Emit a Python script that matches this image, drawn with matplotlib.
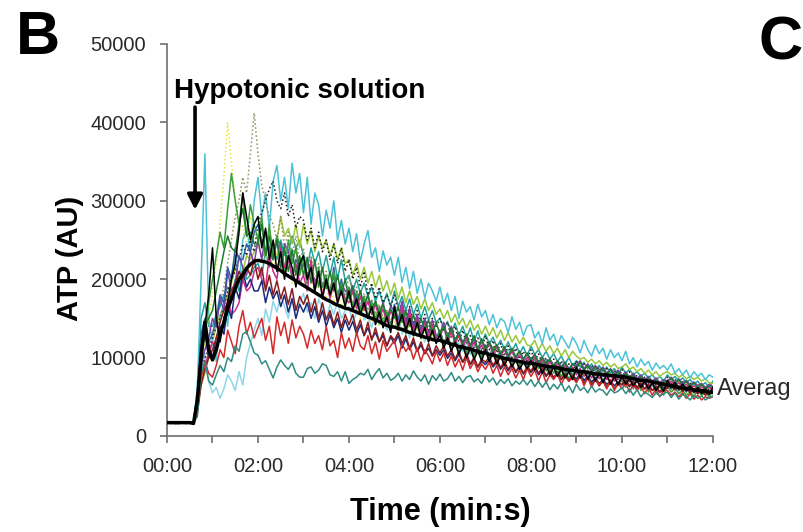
"""
ATP release after hypotonic stimulation: individual cell traces + average.
Output: out.png
"""
import matplotlib
matplotlib.use("Agg")
import matplotlib.pyplot as plt
from matplotlib.ticker import FuncFormatter, MultipleLocator

# sample clock, seconds (one reading every 5 s, 0 .. 12 min)
TIME_S = list(range(0, 721, 5))

# individual traces, ATP in hundreds of AU, one row per minute
TRACE_CYAN = [
    17, 18, 17, 17, 18, 17, 17, 18, 60, 200, 360, 150,
    120, 95, 150, 170, 140, 205, 230, 190, 250, 265, 235, 300,
    330, 280, 310, 265, 325, 345, 300, 330, 290, 348, 310, 335,
    285, 330, 270, 310, 295, 255, 288, 265, 300, 250, 275, 245,
    265, 235, 258, 222, 245, 262, 228, 240, 210, 236, 218, 228,
    205, 228, 196, 215, 188, 210, 182, 200, 176, 195, 185, 172,
    190, 168, 182, 160, 178, 150, 172, 158, 165, 148, 168, 152,
    160, 142, 155, 138, 150, 146, 132, 152, 136, 145, 128, 140,
    142, 125, 133, 118, 138, 122, 130, 115, 128, 120, 112, 126,
    118, 106, 122, 110, 102, 116, 105, 112, 98, 110, 100, 106,
    96, 108, 92, 100, 88, 98, 90, 95, 84, 93, 86, 90,
    84, 92, 80, 86, 78, 84, 74, 82, 76, 80, 72, 78,
    75]
TRACE_SKY = [
    17, 17, 18, 17, 17, 17, 18, 17, 35, 80, 105, 70,
    55, 62, 48, 60, 78, 70, 58, 82, 65, 100, 118, 135,
    150, 128, 162, 145, 172, 158, 180, 165, 150, 176, 160, 170,
    182, 158, 170, 150, 175, 162, 148, 168, 155, 172, 150, 160,
    165, 145, 158, 170, 148, 152, 138, 158, 142, 150, 135, 145,
    138, 150, 130, 142, 125, 138, 128, 132, 120, 135, 122, 128,
    130, 115, 126, 112, 122, 118, 108, 120, 104, 116, 110, 112,
    112, 102, 114, 100, 108, 96, 110, 98, 104, 94, 100, 96,
    100, 90, 96, 86, 98, 88, 92, 84, 94, 86, 82, 90,
    90, 82, 86, 78, 88, 80, 84, 75, 82, 78, 72, 80,
    78, 70, 76, 68, 74, 66, 72, 68, 64, 70, 62, 68,
    66, 60, 64, 58, 68, 60, 62, 56, 62, 58, 55, 60,
    58]
TRACE_TEAL = [
    17, 16, 17, 16, 17, 16, 17, 17, 25, 80, 95, 70,
    65, 78, 90, 82, 100, 95, 115, 108, 130, 133, 120, 106,
    103, 92, 96, 85, 74, 88, 97, 90, 85, 93, 80, 75,
    75, 86, 88, 80, 84, 92, 90, 78, 76, 82, 70, 82,
    67, 72, 75, 80, 78, 85, 72, 80, 86, 74, 80, 71,
    74, 80, 70, 78, 72, 83, 75, 70, 78, 66, 77, 71,
    79, 70, 73, 81, 70, 76, 68, 75, 77, 69, 73, 67,
    77, 69, 74, 65, 72, 67, 73, 64, 70, 66, 72, 65,
    72, 63, 70, 62, 69, 59, 66, 60, 68, 57, 64, 55,
    66, 58, 62, 55, 64, 56, 60, 58, 52, 60, 55, 57,
    62, 54, 60, 52, 59, 50, 56, 53, 49, 55, 51, 54,
    56, 49, 55, 47, 53, 50, 46, 52, 48, 51, 46, 49,
    51]
TRACE_YELLOW = [
    17, 17, 18, 17, 17, 18, 17, 17, 30, 90, 120, 150,
    180, 220, 270, 330, 400, 350, 300, 260, 270, 240, 280, 260,
    240, 255, 225, 250, 210, 235, 220, 200, 228, 195, 215, 205,
    220, 190, 205, 182, 198, 188, 175, 195, 170, 185, 165, 178,
    180, 160, 172, 150, 165, 155, 145, 162, 140, 155, 138, 148,
    145, 135, 150, 130, 142, 126, 138, 122, 135, 120, 130, 118,
    130, 115, 125, 110, 122, 108, 118, 104, 113, 100, 110, 98,
    108, 96, 104, 92, 100, 90, 98, 88, 95, 85, 92, 84,
    98, 86, 94, 82, 90, 80, 88, 78, 86, 76, 83, 74,
    84, 74, 80, 72, 78, 70, 76, 68, 74, 66, 72, 65,
    76, 68, 74, 65, 70, 62, 68, 60, 66, 58, 64, 57,
    62, 58, 64, 55, 60, 54, 58, 52, 57, 50, 56, 52,
    59]
TRACE_OLIVE = [
    17, 18, 17, 17, 17, 18, 17, 17, 25, 70, 90, 110,
    130, 150, 170, 190, 220, 250, 280, 300, 330, 310, 360, 412,
    360, 320, 300, 280, 270, 250, 280, 240, 260, 230, 255, 220,
    240, 205, 230, 195, 220, 190, 210, 185, 205, 180, 195, 175,
    205, 180, 190, 165, 182, 160, 175, 155, 168, 150, 160, 145,
    165, 145, 160, 140, 155, 135, 150, 130, 145, 128, 140, 125,
    135, 120, 128, 112, 120, 108, 115, 105, 118, 100, 112, 98,
    115, 100, 110, 96, 108, 94, 104, 92, 100, 90, 98, 88,
    100, 88, 95, 84, 91, 80, 88, 77, 85, 74, 81, 72,
    88, 78, 84, 74, 82, 72, 80, 70, 78, 68, 75, 66,
    78, 69, 75, 66, 72, 64, 70, 61, 66, 59, 63, 57,
    70, 62, 66, 58, 64, 56, 62, 54, 60, 53, 58, 52,
    60]
TRACE_BLACK_DOT = [
    17, 17, 16, 17, 17, 16, 17, 17, 30, 80, 100, 110,
    125, 140, 150, 165, 185, 200, 210, 225, 245, 230, 250, 235,
    270, 285, 300, 315, 325, 300, 290, 310, 280, 295, 265, 280,
    275, 250, 265, 240, 260, 235, 250, 225, 245, 220, 240, 210,
    225, 200, 215, 190, 210, 180, 195, 175, 190, 170, 180, 165,
    180, 160, 170, 150, 165, 145, 160, 140, 155, 135, 150, 138,
    150, 135, 145, 125, 140, 120, 135, 118, 128, 112, 125, 108,
    128, 110, 122, 106, 118, 102, 115, 100, 112, 98, 108, 96,
    110, 96, 105, 92, 100, 88, 98, 86, 96, 84, 92, 80,
    96, 84, 92, 80, 90, 78, 88, 76, 86, 74, 84, 72,
    85, 74, 82, 70, 78, 68, 75, 66, 72, 65, 70, 62,
    75, 65, 72, 62, 70, 60, 68, 58, 66, 56, 64, 58,
    64]
TRACE_GREEN = [
    17, 17, 17, 18, 17, 17, 18, 17, 40, 100, 130, 170,
    200, 230, 260, 240, 290, 335, 300, 270, 310, 255, 295, 270,
    250, 280, 230, 270, 225, 255, 240, 210, 250, 220, 240, 205,
    230, 195, 220, 185, 215, 190, 205, 180, 210, 175, 195, 170,
    190, 165, 185, 160, 178, 150, 172, 148, 165, 142, 158, 140,
    160, 135, 155, 130, 150, 128, 142, 125, 140, 120, 138, 118,
    135, 115, 132, 112, 125, 108, 120, 105, 118, 102, 114, 100,
    108, 98, 114, 95, 108, 92, 104, 90, 100, 86, 98, 84,
    92, 98, 86, 94, 83, 90, 80, 87, 76, 83, 73, 80,
    70, 80, 68, 78, 66, 75, 64, 72, 62, 70, 60, 68,
    70, 62, 77, 60, 73, 58, 70, 56, 67, 54, 64, 52,
    64, 56, 61, 54, 58, 52, 56, 50, 60, 52, 55, 50,
    57]
TRACE_BLACK = [
    16, 17, 16, 16, 17, 16, 17, 16, 50, 110, 140, 180,
    240, 150, 120, 150, 170, 200, 220, 260, 310, 280, 250, 270,
    280, 240, 265, 225, 250, 210, 235, 200, 230, 215, 190, 220,
    230, 200, 215, 185, 210, 175, 200, 180, 195, 170, 185, 165,
    185, 160, 175, 155, 170, 150, 165, 142, 158, 138, 152, 132,
    165, 140, 155, 135, 150, 128, 145, 125, 138, 120, 135, 118,
    130, 112, 125, 108, 120, 104, 116, 100, 112, 98, 108, 96,
    110, 95, 106, 92, 102, 90, 100, 88, 97, 85, 94, 86,
    96, 84, 92, 80, 90, 78, 88, 76, 85, 74, 82, 72,
    88, 74, 84, 72, 82, 70, 80, 68, 78, 66, 76, 65,
    76, 66, 73, 64, 71, 62, 70, 60, 68, 58, 66, 57,
    71, 62, 68, 60, 66, 58, 64, 56, 62, 54, 60, 53,
    62]
TRACE_RED = [
    17, 17, 17, 17, 17, 17, 17, 17, 35, 75, 95, 80,
    75, 90, 110, 100, 135, 120, 105, 140, 160, 130, 145, 125,
    138, 150, 122, 140, 105, 152, 128, 145, 118, 148, 125, 140,
    130, 112, 135, 118, 128, 110, 140, 115, 122, 100, 132, 112,
    125, 108, 132, 115, 110, 128, 105, 120, 98, 122, 108, 115,
    122, 100, 118, 108, 115, 98, 112, 95, 110, 102, 92, 108,
    95, 106, 90, 102, 88, 98, 84, 100, 86, 95, 82, 92,
    85, 94, 80, 90, 76, 88, 78, 86, 74, 84, 72, 86,
    76, 84, 70, 82, 68, 78, 72, 80, 66, 76, 70, 74,
    68, 78, 64, 75, 62, 72, 66, 70, 60, 72, 58, 68,
    60, 68, 56, 66, 58, 64, 54, 62, 52, 60, 50, 58,
    58, 52, 56, 50, 55, 48, 54, 47, 52, 46, 50, 48,
    50]
TRACE_MAROON = [
    17, 16, 17, 17, 17, 16, 17, 17, 30, 65, 85, 100,
    110, 125, 145, 160, 170, 185, 195, 210, 200, 215, 205, 225,
    200, 215, 185, 205, 180, 198, 175, 190, 168, 188, 160, 178,
    168, 180, 158, 175, 150, 170, 148, 160, 142, 158, 138, 155,
    142, 155, 135, 148, 128, 145, 122, 138, 120, 132, 115, 128,
    122, 132, 118, 128, 112, 125, 108, 120, 105, 118, 102, 115,
    106, 115, 102, 110, 98, 108, 94, 105, 92, 100, 88, 98,
    94, 101, 90, 98, 87, 95, 85, 92, 82, 90, 80, 88,
    83, 90, 80, 87, 77, 84, 74, 82, 72, 80, 70, 77,
    69, 76, 67, 74, 65, 72, 64, 70, 62, 68, 60, 66,
    66, 72, 64, 70, 62, 68, 60, 66, 58, 64, 56, 62,
    61, 67, 59, 64, 57, 62, 55, 60, 54, 58, 52, 56,
    54]
TRACE_PURPLE = [
    18, 17, 17, 18, 17, 17, 17, 18, 40, 90, 110, 125,
    150, 140, 175, 160, 210, 185, 195, 230, 215, 205, 235, 220,
    250, 225, 260, 240, 230, 255, 215, 245, 235, 220, 240, 210,
    220, 195, 215, 185, 210, 190, 200, 180, 205, 175, 195, 185,
    180, 192, 170, 185, 165, 180, 160, 172, 155, 170, 150, 165,
    160, 148, 172, 145, 163, 140, 155, 135, 150, 130, 148, 128,
    130, 145, 125, 140, 122, 132, 118, 128, 112, 126, 110, 122,
    112, 120, 108, 116, 105, 112, 102, 110, 100, 108, 98, 105,
    98, 104, 94, 100, 92, 98, 90, 96, 88, 94, 86, 92,
    90, 96, 86, 92, 84, 90, 82, 88, 80, 86, 79, 84,
    76, 82, 74, 80, 73, 78, 71, 76, 70, 74, 68, 72,
    70, 75, 68, 73, 67, 71, 65, 69, 64, 67, 62, 66,
    63]
TRACE_MAGENTA = [
    17, 17, 18, 17, 17, 17, 18, 17, 32, 75, 90, 105,
    120, 110, 140, 130, 175, 155, 160, 170, 200, 185, 190, 210,
    215, 200, 190, 230, 210, 200, 240, 215, 225, 205, 220, 195,
    205, 185, 225, 190, 210, 180, 200, 175, 195, 170, 190, 175,
    170, 185, 162, 178, 160, 172, 155, 168, 150, 162, 145, 158,
    155, 140, 165, 138, 158, 132, 150, 130, 145, 128, 142, 125,
    126, 140, 120, 133, 118, 128, 114, 124, 110, 120, 108, 116,
    108, 118, 104, 114, 102, 110, 100, 108, 98, 103, 95, 100,
    93, 100, 90, 98, 88, 95, 86, 92, 84, 90, 82, 88,
    78, 86, 76, 84, 74, 82, 73, 80, 72, 78, 70, 76,
    71, 78, 69, 76, 68, 73, 66, 71, 65, 70, 63, 68,
    65, 70, 63, 68, 62, 66, 61, 64, 60, 63, 58, 62,
    58]
TRACE_BLUE = [
    17, 17, 16, 17, 17, 17, 16, 17, 55, 130, 150, 120,
    130, 150, 180, 170, 215, 200, 240, 225, 225, 245, 235, 260,
    270, 245, 260, 235, 225, 250, 245, 210, 230, 200, 225, 215,
    230, 205, 215, 195, 210, 190, 200, 180, 215, 175, 200, 170,
    188, 165, 180, 160, 178, 150, 168, 148, 160, 142, 158, 140,
    168, 148, 160, 140, 155, 138, 150, 132, 148, 128, 142, 125,
    135, 118, 128, 112, 125, 108, 122, 106, 118, 102, 112, 100,
    116, 100, 112, 98, 108, 96, 104, 94, 100, 92, 98, 90,
    100, 87, 96, 84, 95, 82, 91, 80, 88, 78, 86, 76,
    87, 76, 84, 74, 82, 72, 80, 70, 78, 68, 76, 66,
    77, 67, 75, 65, 72, 63, 70, 62, 68, 60, 66, 58,
    68, 60, 66, 58, 64, 56, 62, 55, 61, 54, 60, 52,
    61]
TRACE_LIME = [
    17, 18, 17, 17, 17, 18, 17, 17, 30, 65, 80, 100,
    120, 140, 155, 165, 180, 195, 215, 200, 210, 230, 225, 235,
    245, 228, 235, 260, 240, 250, 280, 255, 265, 245, 270, 240,
    270, 245, 262, 235, 255, 240, 250, 230, 245, 225, 240, 220,
    225, 205, 220, 200, 215, 195, 210, 190, 205, 185, 198, 180,
    195, 175, 190, 170, 185, 168, 178, 162, 175, 160, 170, 155,
    162, 150, 160, 145, 155, 142, 150, 138, 148, 135, 142, 130,
    140, 128, 138, 125, 135, 122, 132, 120, 128, 118, 126, 116,
    115, 122, 110, 118, 108, 115, 105, 112, 102, 110, 100, 108,
    102, 98, 100, 94, 98, 92, 96, 90, 94, 88, 92, 86,
    88, 92, 85, 88, 82, 86, 80, 84, 78, 82, 76, 80,
    82, 78, 80, 75, 78, 73, 76, 72, 75, 70, 73, 68,
    67]
TRACE_NAVY = [
    16, 17, 17, 16, 17, 17, 16, 17, 45, 115, 130, 100,
    100, 125, 140, 130, 165, 150, 190, 175, 210, 190, 200, 185,
    185, 198, 170, 190, 175, 185, 165, 180, 158, 175, 150, 168,
    158, 170, 150, 165, 145, 160, 140, 155, 138, 150, 132, 148,
    135, 146, 130, 142, 128, 138, 124, 132, 120, 128, 115, 126,
    118, 128, 112, 124, 110, 120, 108, 116, 105, 112, 102, 110,
    103, 110, 99, 106, 96, 104, 94, 101, 91, 98, 88, 95,
    91, 97, 88, 94, 85, 92, 83, 90, 81, 88, 79, 86,
    81, 87, 78, 84, 76, 82, 74, 80, 72, 78, 70, 76,
    73, 79, 71, 76, 69, 74, 67, 72, 66, 70, 64, 69,
    65, 70, 63, 68, 61, 66, 60, 64, 58, 62, 56, 60,
    61, 65, 59, 63, 57, 61, 56, 60, 54, 58, 53, 56,
    55]
TRACE_DKGREEN = [
    17, 17, 17, 17, 17, 17, 17, 17, 45, 120, 140, 150,
    160, 185, 210, 235, 255, 240, 235, 270, 290, 255, 260, 245,
    245, 270, 230, 255, 225, 250, 215, 240, 210, 238, 205, 230,
    205, 228, 195, 225, 190, 215, 188, 210, 185, 205, 180, 200,
    175, 190, 168, 185, 165, 180, 160, 172, 155, 168, 150, 162,
    150, 165, 145, 160, 140, 155, 138, 150, 135, 148, 130, 145,
    130, 140, 125, 138, 122, 132, 118, 130, 115, 128, 110, 124,
    110, 120, 108, 116, 104, 114, 102, 112, 100, 108, 98, 106,
    96, 104, 94, 100, 92, 98, 88, 96, 86, 94, 84, 92,
    88, 94, 84, 90, 82, 88, 80, 86, 78, 85, 76, 82,
    74, 80, 72, 78, 70, 76, 68, 74, 66, 72, 64, 70,
    68, 74, 66, 72, 64, 70, 62, 68, 61, 66, 60, 64,
    61]
TRACE_SEA = [
    17, 17, 17, 17, 17, 17, 17, 17, 60, 150, 170, 140,
    140, 155, 165, 180, 190, 175, 200, 185, 215, 200, 205, 215,
    220, 205, 235, 215, 245, 225, 250, 230, 235, 255, 240, 250,
    230, 215, 240, 220, 235, 210, 230, 205, 228, 200, 225, 198,
    205, 185, 200, 182, 195, 178, 190, 172, 185, 168, 182, 165,
    185, 165, 178, 160, 175, 155, 168, 150, 165, 148, 160, 145,
    150, 138, 146, 132, 144, 128, 140, 125, 138, 120, 134, 118,
    130, 118, 126, 114, 122, 110, 120, 108, 118, 105, 114, 102,
    115, 104, 110, 100, 108, 98, 105, 95, 102, 92, 100, 90,
    96, 88, 94, 86, 92, 84, 90, 82, 88, 80, 86, 78,
    88, 80, 85, 78, 82, 76, 80, 74, 78, 72, 76, 70,
    78, 72, 76, 70, 74, 68, 72, 66, 70, 64, 68, 62,
    70]

# mean of all cells (thick black line), hundreds of AU
AVERAGE = [
    17, 17, 17, 17, 17, 17, 17, 16, 45, 100, 145, 110,
    97, 110, 130, 145, 162, 175, 188, 200, 206, 214, 219, 223,
    224, 223, 222, 220, 217, 214, 211, 207, 204, 201, 198, 195,
    192, 189, 186, 183, 180, 177, 174, 172, 169, 167, 165, 163,
    162, 160, 158, 156, 154, 152, 150, 148, 146, 143, 141, 139,
    139, 137, 136, 134, 132, 131, 129, 128, 126, 125, 123, 122,
    122, 120, 119, 117, 116, 114, 113, 112, 111, 109, 108, 106,
    106, 104, 103, 102, 100, 99, 98, 97, 96, 95, 94, 93,
    93, 92, 91, 90, 89, 88, 88, 87, 86, 85, 84, 84,
    83, 82, 82, 81, 80, 79, 79, 78, 78, 77, 77, 76,
    76, 75, 74, 73, 72, 71, 71, 70, 69, 68, 67, 66,
    65, 64, 63, 62, 61, 61, 60, 59, 58, 58, 57, 56,
    56]

# (data, colour, linestyle) -- drawing order, back to front
TRACES = [
    (TRACE_SKY, "#8fd6ea", "-"),
    (TRACE_SEA, "#21a39c", "-"),
    (TRACE_LIME, "#97c83a", "-"),
    (TRACE_CYAN, "#4cc2d8", "-"),
    (TRACE_YELLOW, "#e4e43a", ":"),
    (TRACE_OLIVE, "#8f8f5c", ":"),
    (TRACE_BLACK_DOT, "#222222", ":"),
    (TRACE_PURPLE, "#7d3fa8", "-"),
    (TRACE_BLUE, "#2c5daa", "-"),
    (TRACE_GREEN, "#3c9e3c", "-"),
    (TRACE_MAGENTA, "#c8308c", "-"),
    (TRACE_DKGREEN, "#1e7b2e", "-"),
    (TRACE_NAVY, "#1b2a7a", "-"),
    (TRACE_MAROON, "#8b1c1c", "-"),
    (TRACE_RED, "#d42a2a", "-"),
    (TRACE_TEAL, "#2e8c82", "-"),
    (TRACE_BLACK, "#000000", "-"),
]


def mmss(x, pos):
    x = int(round(x))
    return f"{x // 60:02d}:{x % 60:02d}"


def main():
    plt.rcParams["font.family"] = ["Liberation Sans", "DejaVu Sans"]

    fig = plt.figure(figsize=(8.04, 5.32), dpi=100)
    ax = fig.add_axes([0.2077, 0.1805, 0.679, 0.7368])

    for vals, col, ls in TRACES:
        assert len(vals) == len(TIME_S)
        ax.plot(TIME_S, [v * 100 for v in vals], color=col, ls=ls, lw=1.1)
    ax.plot(TIME_S, [v * 100 for v in AVERAGE], color="black", lw=2.5,
            zorder=5)

    ax.set_xlim(0, 720)
    ax.set_ylim(0, 50000)
    ax.xaxis.set_major_locator(MultipleLocator(120))
    ax.xaxis.set_minor_locator(MultipleLocator(60))
    ax.xaxis.set_major_formatter(FuncFormatter(mmss))
    ax.yaxis.set_major_locator(MultipleLocator(10000))

    for s in ("top", "right"):
        ax.spines[s].set_visible(False)
    for s in ("left", "bottom"):
        ax.spines[s].set_color("#6e6e6e")
        ax.spines[s].set_linewidth(1.2)
    ax.tick_params(which="both", direction="out", length=5, width=1.2,
                   color="#6e6e6e", labelsize=14.5, labelcolor="#2a2a2a",
                   pad=10)

    # stimulus annotation
    ax.annotate("", xy=(37, 28500), xytext=(37, 42300),
                arrowprops=dict(arrowstyle="-|>,head_width=0.45,head_length=0.9",
                                color="black", lw=2.6))
    ax.text(9, 44000, "Hypotonic solution", fontsize=20, fontweight="bold",
            ha="left", va="center")

    fig.text(70 / 804, 1 - 258 / 532, "ATP (AU)", rotation=90, fontsize=21,
             fontweight="bold", ha="center", va="center")
    fig.text(440 / 804, 1 - 512 / 532, "Time (min:s)", fontsize=22,
             fontweight="bold", ha="center", va="center")
    # label of the mean trace, cut by the panel edge in the original
    fig.text(717 / 804, 1 - 389 / 532, "Averag", fontsize=17,
             color="#2a2a2a", ha="left", va="center")

    # panel letters
    fig.text(16 / 804, 1 - 38 / 532, "B", fontsize=44, fontweight="bold",
             ha="left", va="center")
    fig.text(803 / 804, 1 - 44 / 532, "C", fontsize=44, fontweight="bold",
             ha="right", va="center")

    fig.savefig("out.png", dpi=100)
    plt.close(fig)


if __name__ == "__main__":
    main()
